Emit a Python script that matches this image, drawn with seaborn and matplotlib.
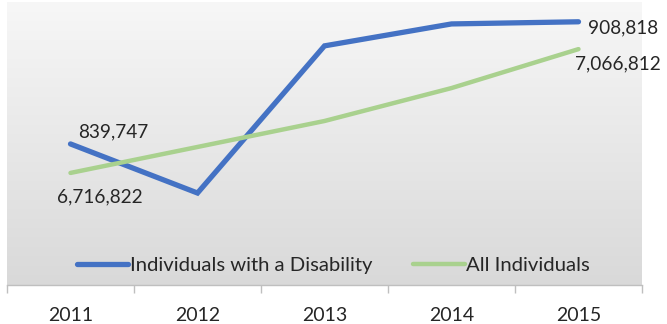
import numpy as np
import pandas as pd
import matplotlib
matplotlib.use("Agg")
import matplotlib.pyplot as plt
import seaborn as sns
from matplotlib.lines import Line2D

# Data
years = ["2011", "2012", "2013", "2014", "2015"]
disability = [839747, 812000, 895200, 907600, 908818]
all_individuals = [6716822, 6790200, 6863600, 6956700, 7066812]
series_names = ["Individuals with a Disability", "All Individuals"]

sns.set_theme(style="white")
plt.rcParams["font.family"] = ["Lato", "DejaVu Sans"]

BLUE = "#4472C4"
GREEN = "#A9D18E"
TEXT = "#262626"

W, H = 667, 324
fig = plt.figure(figsize=(W / 100, H / 100), dpi=100)
fig.patch.set_facecolor("white")

left, right, top, bottom = 7, 642, 2, 285
ax = fig.add_axes([left / W, 1 - bottom / H, (right - left) / W, (bottom - top) / H])
ax2 = ax.twinx()

x = np.arange(len(years))
df = pd.DataFrame({"year": x, "dis": disability, "all": all_individuals})

# Gradient plot-area background
grad = np.linspace(0, 1, 256).reshape(-1, 1)
ax.imshow(grad, cmap=matplotlib.colors.LinearSegmentedColormap.from_list(
    "bg", ["#f7f7f7", "#d9d9d9"]), aspect="auto", extent=(0, 1, 0, 1),
    transform=ax.transAxes, zorder=0, interpolation="bicubic")

sns.lineplot(data=df, x="year", y="dis", ax=ax, color=BLUE, linewidth=3.8,
             solid_capstyle="round", solid_joinstyle="miter", zorder=3)
sns.lineplot(data=df, x="year", y="all", ax=ax2, color=GREEN, linewidth=3.2,
             solid_capstyle="round", solid_joinstyle="miter", zorder=3)

ax.set_ylim(760000, 920000)
ax2.set_ylim(6400000, 7200000)
ax.set_xlim(-0.5, len(years) - 0.5)

for a in (ax, ax2):
    a.set_xlabel("")
    a.set_ylabel("")
    a.set_yticks([])
    for s in ("top", "left", "right", "bottom"):
        a.spines[s].set_visible(False)
ax.spines["bottom"].set_visible(True)
ax.spines["bottom"].set_color("#bfbfbf")
ax.spines["bottom"].set_linewidth(1.0)
ax2.patch.set_visible(False)

ax.set_xticks(x)
ax.set_xticklabels(years, fontsize=14, color=TEXT)
ax.set_xticks(np.arange(-0.5, len(years)), minor=True)
ax.tick_params(axis="x", which="major", length=0, pad=16)
ax.tick_params(axis="x", which="minor", length=6, width=1.0, color="#bfbfbf",
               direction="out", bottom=True)

# Value labels at the first and last points
def label(a, xi, v, dx, dy):
    a.annotate(f"{v:,}", (xi, v), xytext=(dx, dy), textcoords="offset pixels",
               ha="center", va="center", fontsize=13.7, color=TEXT, zorder=5)

label(ax, 0, disability[0], 43, 12)
label(ax, 4, disability[-1], 45, -6)
label(ax2, 0, all_individuals[0], 29, -24)
label(ax2, 4, all_individuals[-1], 39, -15)

handles = [Line2D([], [], color=BLUE, linewidth=3.8, solid_capstyle="round"),
           Line2D([], [], color=GREEN, linewidth=3.2, solid_capstyle="round")]
leg = ax2.legend(handles, series_names, loc="center", ncol=2,
                 bbox_to_anchor=(0.514, 0.07), frameon=False, fontsize=14.6,
                 handlelength=2.55, handletextpad=0.08, columnspacing=2.0)
for t in leg.get_texts():
    t.set_color(TEXT)

fig.savefig("out.png", dpi=100)
